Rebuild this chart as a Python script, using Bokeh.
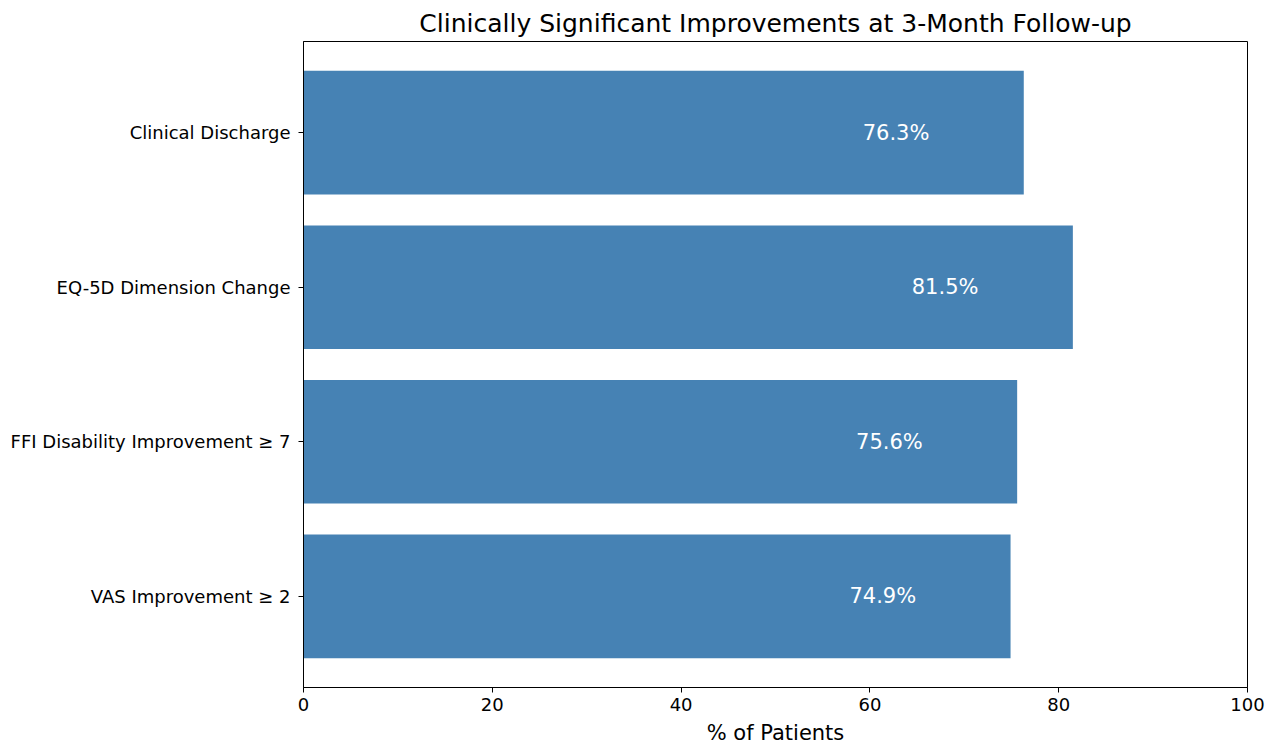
from bokeh.plotting import figure
from bokeh.models import ColumnDataSource, Range1d, FixedTicker
from bokeh.core.properties import value
from bokeh.embed import file_html
from bokeh.resources import INLINE

categories = ["VAS Improvement \u2265 2", "FFI Disability Improvement \u2265 7",
              "EQ-5D Dimension Change", "Clinical Discharge"]
percentages = [74.9, 75.6, 81.5, 76.3]
x_ticks = [0, 20, 40, 60, 80, 100]

pos = list(range(len(categories)))
src = ColumnDataSource(dict(
    y=pos, right=percentages,
    lx=[v - 10 for v in percentages],
    lab=[f"{v:.1f}%" for v in percentages],
))

FONT = "DejaVu Sans"
p = figure(width=1266, height=747, output_backend="svg", toolbar_location=None,
           x_range=Range1d(0, 100), y_range=Range1d(-0.59, 3.59),
           min_border_left=303, min_border_right=19, min_border_top=41,
           min_border_bottom=60,
           title="Clinically Significant Improvements at 3-Month Follow-up")
p.title.align = "center"
p.title.text_font = FONT
p.title.text_font_size = "25px"
p.title.text_font_style = "normal"
p.title.text_color = "#000000"
p.title.standoff = 7

p.hbar(y="y", right="right", left=0, height=0.8, source=src,
       fill_color="#4682B4", line_color=None)
p.text(x="lx", y="y", text="lab", source=src, text_align="right",
       text_baseline="middle", text_color="white",
       text_font=value(FONT), text_font_size="21px")

p.xgrid.visible = False
p.ygrid.visible = False
p.outline_line_color = "#000000"
p.outline_line_width = 1

p.xaxis.ticker = FixedTicker(ticks=x_ticks)
p.yaxis.ticker = FixedTicker(ticks=pos)
p.yaxis.major_label_overrides = {i: c for i, c in zip(pos, categories)}
p.xaxis.axis_label = "% of Patients"
for ax in (p.xaxis, p.yaxis):
    ax.axis_line_color = "#000000"
    ax.major_tick_line_color = "#000000"
    ax.major_tick_out = 5
    ax.major_tick_in = 0
    ax.minor_tick_line_color = None
    ax.major_label_text_font = FONT
    ax.major_label_text_font_size = "18px"
    ax.major_label_text_color = "#000000"
    ax.axis_label_text_font = FONT
    ax.axis_label_text_font_size = "21px"
    ax.axis_label_text_font_style = "normal"
    ax.axis_label_text_color = "#000000"
p.xaxis.axis_label_standoff = 7
p.yaxis.major_label_standoff = 8

open("out.html", "w").write(file_html(p, INLINE))
